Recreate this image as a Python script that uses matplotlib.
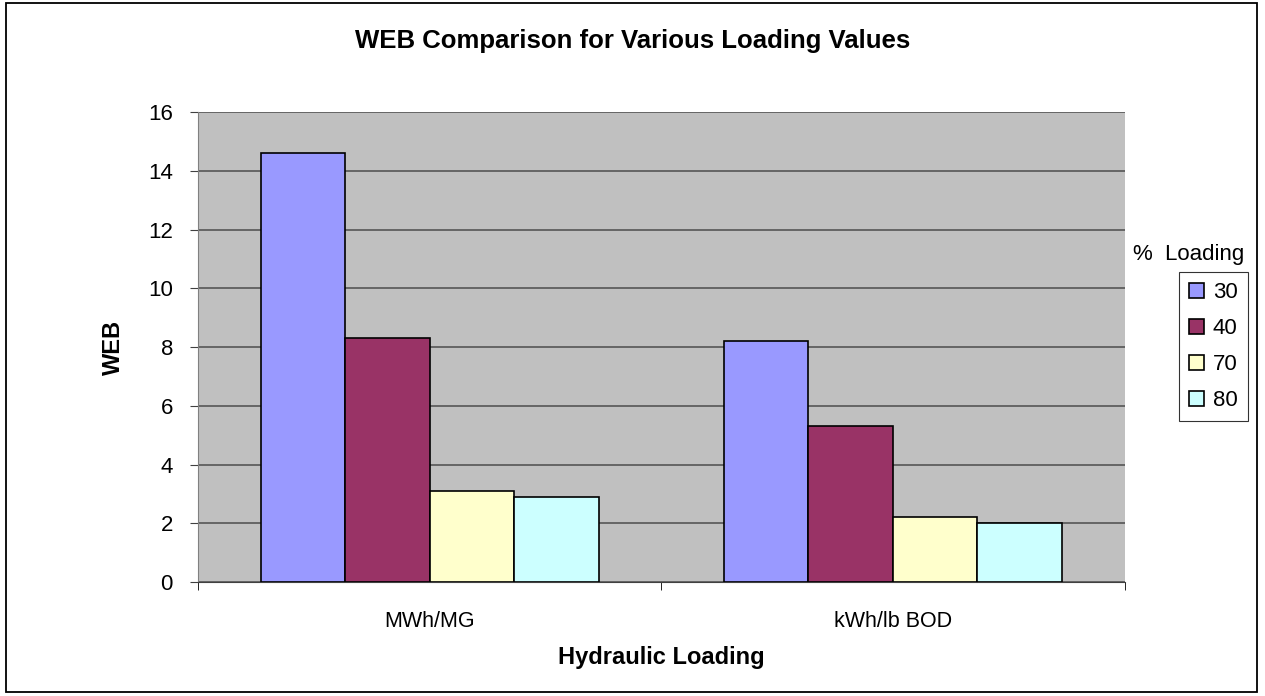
import matplotlib.pyplot as plt
import numpy as np
from matplotlib.patches import Rectangle

plt.rcParams['font.family'] = ['Liberation Sans', 'DejaVu Sans']

categories = ['MWh/MG', 'kWh/lb BOD']
loadings = ['30', '40', '70', '80']
web_values = [
    [14.6, 8.2],   # 30 %
    [8.3, 5.3],    # 40 %
    [3.1, 2.2],    # 70 %
    [2.9, 2.0],    # 80 %
]
colors = ['#9999FF', '#993366', '#FFFFCC', '#CCFFFF']

fig = plt.figure(figsize=(12.65, 6.96), dpi=100)
ax = fig.add_axes([0.1565, 0.1638, 0.7325, 0.6752])
ax.set_facecolor('#C0C0C0')

# outer chart border
fig.patches.append(Rectangle((0.005, 0.006), 0.989, 0.989, transform=fig.transFigure,
                             fill=False, edgecolor='black', linewidth=1.3))

x = np.arange(len(categories))
width = 0.1825
for i, (vals, c) in enumerate(zip(web_values, colors)):
    ax.bar(x + (i - 1.5) * width, vals, width, color=c, edgecolor='black',
           linewidth=1.2, label=loadings[i], zorder=3)

ax.set_xlim(-0.5, 1.5)
ax.set_ylim(0, 16)
ax.set_yticks(np.arange(0, 17, 2))
ax.yaxis.grid(True, color='#4d4d4d', linewidth=1.1, zorder=1)
ax.set_axisbelow(True)

ax.set_xticks(x)
ax.set_xticklabels(categories)
ax.set_xticks([-0.5, 0.5, 1.5], minor=True)
ax.tick_params(axis='x', which='major', length=0, pad=21, labelsize=15.5)
ax.tick_params(axis='x', which='minor', length=6, color='black')
ax.tick_params(axis='y', length=6, labelsize=16, pad=12, color='#404040')

for side in ['top', 'right']:
    ax.spines[side].set_visible(False)
ax.spines['left'].set_color('#808080')
ax.spines['bottom'].set_color('#404040')

# title centred on the whole chart, not the plot area
fig.text(0.5, 0.931, 'WEB Comparison for Various Loading Values', fontsize=18.5,
         fontweight='bold', ha='center', va='baseline')
ax.set_ylabel('WEB', fontsize=17, fontweight='bold', labelpad=17)
ax.set_xlabel('Hydraulic Loading', fontsize=17, fontweight='bold', labelpad=10)

leg = ax.legend(loc='upper left', bbox_to_anchor=(0.932, 0.609),
                bbox_transform=fig.transFigure, fontsize=16,
                frameon=True, fancybox=False, edgecolor='black',
                handlelength=0.68, handleheight=0.68, handletextpad=0.4,
                borderpad=0.45, labelspacing=0.68, borderaxespad=0)
leg.get_frame().set_linewidth(0.8)
fig.text(0.8955, 0.634, '%  Loading', fontsize=16, ha='left', va='center')

fig.savefig('out.png', dpi=100)
